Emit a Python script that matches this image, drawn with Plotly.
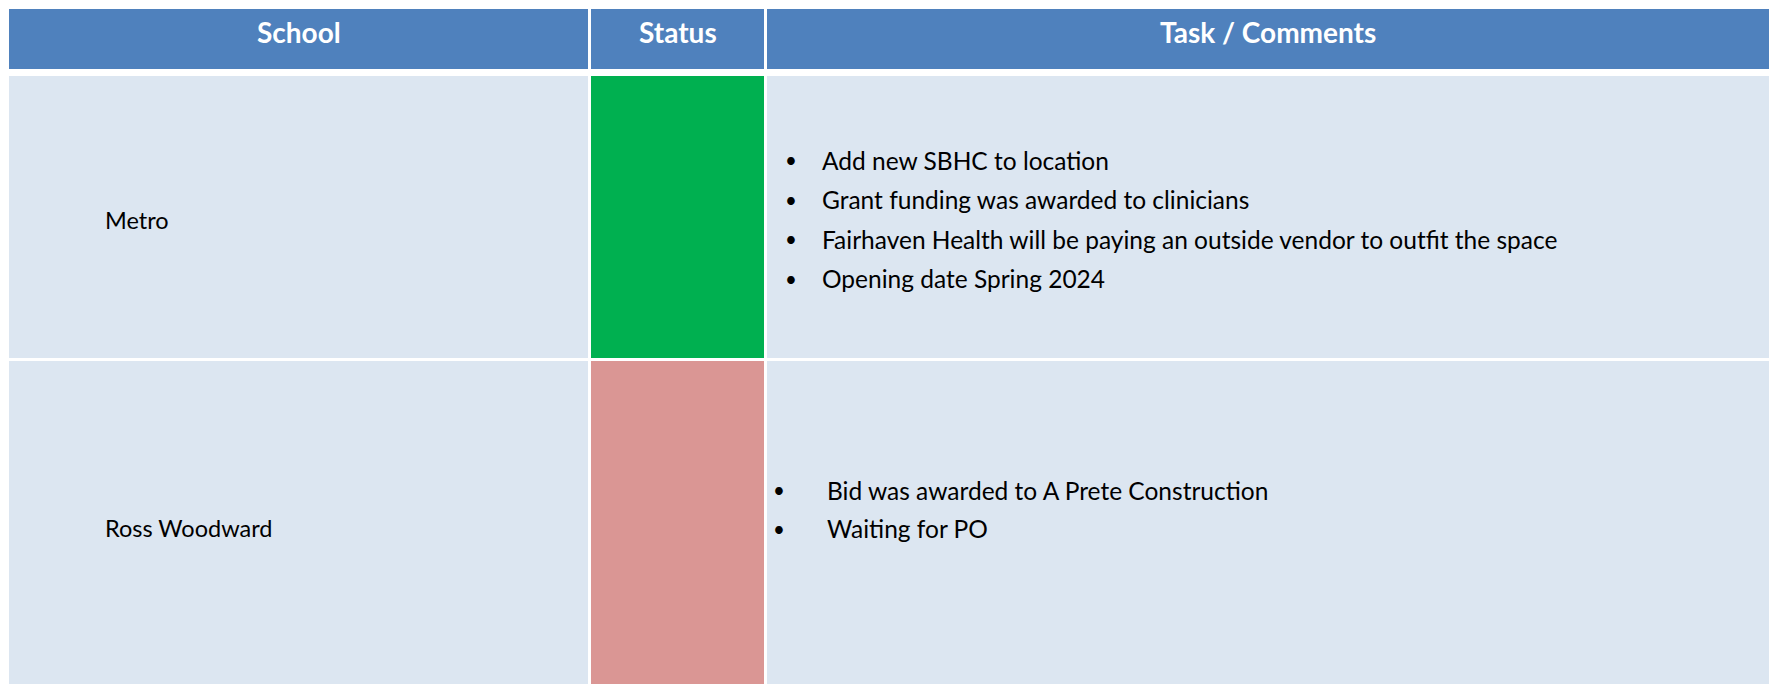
import plotly.graph_objects as go

# ---- data ----
headers = ["School", "Status", "Task / Comments"]
schools = ["Metro", "Ross Woodward"]
statuses = ["green", "red"]
comments = [
    ["Add new SBHC to location",
     "Grant funding was awarded to clinicians",
     "Fairhaven Health will be paying an outside vendor to outfit the space",
     "Opening date Spring 2024"],
    ["Bid was awarded to A Prete Construction",
     "Waiting for PO"],
]

# ---- layout / style constants ----
W, H = 1769, 684
col_edges = [(9, 588), (591, 764), (767, 1769)]
header_y = (9, 69)
header_text_y = 32
row_y = [(76, 358), (361, 684)]
HEADER_FILL = "#4F81BD"
BODY_FILL = "#DCE6F1"
STATUS_FILL = {"green": "#00B050", "red": "#DA9694"}
FONT = "Lato, 'Open Sans', sans-serif"
HEADER_SIZE = 28
BODY_SIZE = 24.5
SCHOOL_SIZE = 23.5
school_x = 103
school_y = [220, 528]
bullet_x = [783, 771]
text_x = [820, 825]
first_line_y = [160, 490]
line_gap = [39.5, 38.5]

fig = go.Figure()
shapes = []
ann = []

# header
for (x0, x1), h in zip(col_edges, headers):
    shapes.append(dict(type="rect", xref="x", yref="y", x0=x0, x1=x1,
                       y0=header_y[0], y1=header_y[1], fillcolor=HEADER_FILL,
                       line=dict(width=0), layer="below"))
    ann.append(dict(x=(x0 + x1) / 2, y=header_text_y,
                    xref="x", yref="y", text=f"<b>{h}</b>", showarrow=False,
                    xanchor="center", yanchor="middle",
                    font=dict(family=FONT, size=HEADER_SIZE, color="white")))

# body rows
for i, (school, st, items) in enumerate(zip(schools, statuses, comments)):
    y0, y1 = row_y[i]
    for j, (x0, x1) in enumerate(col_edges):
        fill = STATUS_FILL[st] if j == 1 else BODY_FILL
        shapes.append(dict(type="rect", xref="x", yref="y", x0=x0, x1=x1,
                           y0=y0, y1=y1, fillcolor=fill,
                           line=dict(width=0), layer="below"))
    ann.append(dict(x=school_x, y=school_y[i], xref="x", yref="y", text=school,
                    showarrow=False, xanchor="left", yanchor="middle",
                    font=dict(family=FONT, size=SCHOOL_SIZE, color="black")))
    for k, t in enumerate(items):
        yy = first_line_y[i] + k * line_gap[i]
        ann.append(dict(x=bullet_x[i], y=yy, xref="x", yref="y", text="•",
                        showarrow=False, xanchor="left", yanchor="middle",
                        font=dict(family=FONT, size=BODY_SIZE - 4, color="black")))
        ann.append(dict(x=text_x[i], y=yy, xref="x", yref="y", text=t,
                        showarrow=False, xanchor="left", yanchor="middle",
                        font=dict(family=FONT, size=BODY_SIZE, color="black")))

fig.update_layout(
    width=W, height=H,
    margin=dict(l=0, r=0, t=0, b=0),
    paper_bgcolor="white", plot_bgcolor="white",
    shapes=shapes, annotations=ann,
    xaxis=dict(range=[0, W], visible=False, fixedrange=True),
    yaxis=dict(range=[H, 0], visible=False, fixedrange=True),
    showlegend=False,
)

fig.write_html("out.html", config={"displayModeBar": False},
               post_script="document.body.style.margin='0';")
